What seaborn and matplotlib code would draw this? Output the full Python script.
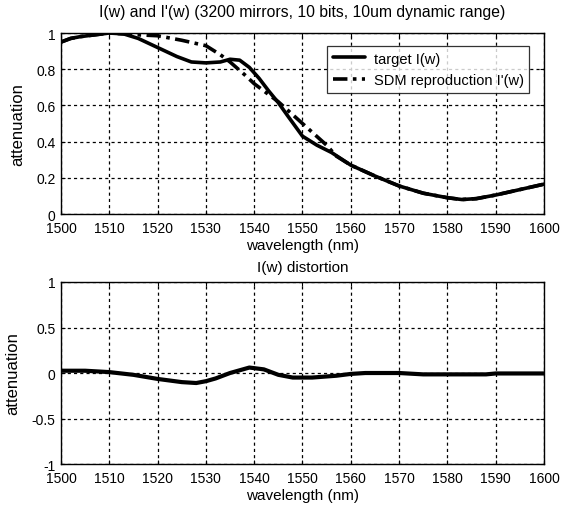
import numpy as np
import pandas as pd
import matplotlib
matplotlib.use("Agg")
import matplotlib.pyplot as plt
import seaborn as sns

# Target attenuation profile I(w)
target_wl = [1500, 1502, 1504, 1507, 1510, 1513, 1516, 1520, 1524, 1527, 1530,
             1533, 1535, 1537, 1539, 1541, 1543, 1545, 1547, 1550, 1553, 1556,
             1560, 1565, 1570, 1575, 1580, 1583, 1586, 1590, 1595, 1600]
target_att = [0.95, 0.97, 0.98, 0.99, 1.0, 0.995, 0.97, 0.92, 0.87, 0.84, 0.835,
              0.84, 0.855, 0.85, 0.81, 0.75, 0.68, 0.615, 0.54, 0.43, 0.38, 0.34,
              0.27, 0.21, 0.155, 0.115, 0.09, 0.08, 0.085, 0.105, 0.135, 0.165]

# SDM reproduction I'(w)
sdm_wl = [1500, 1502, 1504, 1507, 1510, 1513, 1516, 1520, 1525, 1530, 1533,
          1535, 1538, 1540, 1545, 1550, 1555, 1557, 1560, 1565, 1570, 1575,
          1580, 1583, 1586, 1590, 1595, 1600]
sdm_att = [0.95, 0.97, 0.98, 0.99, 1.0, 0.995, 0.99, 0.985, 0.96, 0.93, 0.88,
           0.84, 0.77, 0.72, 0.62, 0.50, 0.38, 0.32, 0.27, 0.21, 0.155, 0.115,
           0.09, 0.08, 0.085, 0.105, 0.135, 0.165]

# Distortion I(w) - I'(w)
dist_wl = [1500, 1505, 1510, 1515, 1520, 1525, 1528, 1530, 1532, 1535, 1539,
           1542, 1545, 1548, 1552, 1557, 1560, 1563, 1570, 1575, 1580, 1588,
           1590, 1600]
dist_att = [0.025, 0.025, 0.01, -0.02, -0.065, -0.10, -0.11, -0.09, -0.06, 0.0,
            0.06, 0.04, -0.02, -0.05, -0.05, -0.03, -0.01, 0.0, 0.0, -0.015,
            -0.015, -0.015, -0.005, -0.005]

x_ticks = [1500, 1510, 1520, 1530, 1540, 1550, 1560, 1570, 1580, 1590, 1600]
top_yticks = [0, 0.2, 0.4, 0.6, 0.8, 1]
bottom_yticks = [-1, -0.5, 0, 0.5, 1]

sns.set_theme(style="white")
plt.rcParams["font.family"] = ["Liberation Sans", "DejaVu Sans"]
plt.rcParams["axes.edgecolor"] = "black"
plt.rcParams["axes.linewidth"] = 1.0
plt.rcParams["text.color"] = "black"
plt.rcParams["axes.labelcolor"] = "black"
plt.rcParams["xtick.color"] = "black"
plt.rcParams["ytick.color"] = "black"

fig = plt.figure(figsize=(5.62, 5.10), dpi=100)
ax1 = fig.add_axes([0.1085, 0.5784, 0.8595, 0.3549])
ax2 = fig.add_axes([0.1085, 0.0882, 0.8595, 0.3569])

df_top = pd.concat([
    pd.DataFrame({"wavelength": target_wl, "attenuation": target_att,
                  "series": "target I(w)"}),
    pd.DataFrame({"wavelength": sdm_wl, "attenuation": sdm_att,
                  "series": "SDM reproduction I'(w)"}),
])
df_dist = pd.DataFrame({"wavelength": dist_wl, "attenuation": dist_att})

sns.lineplot(data=df_top, x="wavelength", y="attenuation", hue="series",
             style="series", palette=["black", "black"],
             dashes={"target I(w)": "", "SDM reproduction I'(w)": (4, 1.5, 1, 1.5)},
             linewidth=2.6, ax=ax1, sort=True)
sns.lineplot(data=df_dist, x="wavelength", y="attenuation", color="black",
             linewidth=3.0, ax=ax2)

for ax, yt, ylim in ((ax1, top_yticks, (0, 1)), (ax2, bottom_yticks, (-1, 1))):
    ax.set_xlim(1500, 1600)
    ax.set_ylim(*ylim)
    ax.set_xticks(x_ticks)
    ax.set_xticklabels([str(v) for v in x_ticks])
    ax.set_yticks(yt)
    ax.set_yticklabels([("%g" % v) for v in yt])
    ax.grid(True, color="black", linestyle=(0, (2.5, 2.5)), linewidth=0.9)
    ax.tick_params(direction="in", length=3, width=0.8, labelsize=10, pad=4,
                   top=True, right=True, bottom=True, left=True)
    ax.tick_params(axis="x", pad=5)
    ax.set_xlabel("wavelength (nm)", fontsize=11, labelpad=2)
    ax.set_ylabel("attenuation", fontsize=12, labelpad=8)
    for s in ax.spines.values():
        s.set_visible(True)
        s.set_color("black")

ax1.set_title("I(w) and I'(w) (3200 mirrors, 10 bits, 10um dynamic range)",
              fontsize=11.3, pad=12)
ax2.set_title("I(w) distortion", fontsize=11, pad=8)

leg = ax1.legend(loc="upper right", bbox_to_anchor=(0.985, 0.97), fontsize=10.5,
                 frameon=True, fancybox=False, edgecolor="black",
                 handlelength=2.2, borderpad=0.4, labelspacing=0.5,
                 handletextpad=0.6)
leg.get_frame().set_linewidth(0.9)
leg.set_title(None)

fig.savefig("out.png", dpi=100, facecolor="white")
